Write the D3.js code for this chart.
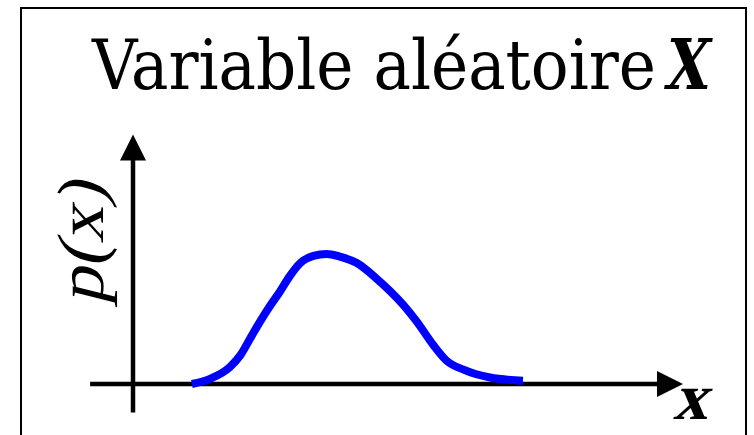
<!DOCTYPE html>
<html>
<head>
<meta charset="utf-8">
<script src="https://cdn.jsdelivr.net/npm/d3@7"></script>
<style>
  html, body { margin: 0; padding: 0; background: #fff; }
  svg { display: block; }
</style>
</head>
<body>
<svg id="chart" width="754" height="435"></svg>
<script>
// Density curve p(x): sample points (x, p) along the bell-shaped curve
const curveX = [1.07, 1.40, 1.76, 1.95, 2.13, 2.31, 2.49, 2.67, 2.85, 3.04, 3.28, 3.52, 3.76, 4.07, 4.43, 4.91, 5.16, 5.46, 5.70, 6.01, 6.49, 7.09];
const curveP = [0.00, 0.04, 0.13, 0.22, 0.35, 0.48, 0.60, 0.71, 0.83, 0.93, 0.985, 1.00, 0.98, 0.93, 0.81, 0.61, 0.48, 0.30, 0.18, 0.11, 0.05, 0.025];

// Axis extents in data units
const xAxisExtent = [-0.78, 10];
const yAxisExtent = [-0.22, 1.92];

// Texts
const titleText = "Variable aléatoire";
const titleVar = "X";
const yLabel = "p(x)";
const xLabel = "x";

const svg = d3.select("#chart");

const x = d3.scaleLinear().domain([0, 10]).range([133, 683]);
const y = d3.scaleLinear().domain([0, 1]).range([384, 254]);

// Frame
svg.append("path")
  .attr("d", "M21,440 V8 H746 V440")
  .attr("fill", "none")
  .attr("stroke", "#000")
  .attr("stroke-width", 2);

// Title
svg.append("text")
  .attr("x", 92).attr("y", 89)
  .attr("font-family", "'DejaVu Serif Condensed', 'DejaVu Serif', serif")
  .attr("font-size", 69)
  .attr("textLength", 564)
  .attr("lengthAdjust", "spacingAndGlyphs")
  .text(titleText);

svg.append("text")
  .attr("x", 667).attr("y", 89)
  .attr("font-family", "'DejaVu Serif', serif")
  .attr("font-size", 69)
  .attr("font-weight", "bold")
  .attr("font-style", "italic")
  .attr("textLength", 44)
  .attr("lengthAdjust", "spacingAndGlyphs")
  .text(titleVar);

// Axes with arrowheads
const arrowLen = 26, arrowHalf = 13;
const axisColor = "#000";

// x axis
const xTip = x(xAxisExtent[1]);
svg.append("line")
  .attr("x1", x(xAxisExtent[0])).attr("x2", xTip - arrowLen + 2)
  .attr("y1", y(0)).attr("y2", y(0))
  .attr("stroke", axisColor).attr("stroke-width", 4.5);
svg.append("path")
  .attr("d", `M${xTip},${y(0)} L${xTip - arrowLen},${y(0) - arrowHalf} L${xTip - arrowLen},${y(0) + arrowHalf} Z`)
  .attr("fill", axisColor);

// y axis
const yTip = y(yAxisExtent[1]);
svg.append("line")
  .attr("x1", x(0)).attr("x2", x(0))
  .attr("y1", y(yAxisExtent[0])).attr("y2", yTip + arrowLen - 2)
  .attr("stroke", axisColor).attr("stroke-width", 4.5);
svg.append("path")
  .attr("d", `M${x(0)},${yTip} L${x(0) - arrowHalf},${yTip + arrowLen} L${x(0) + arrowHalf},${yTip + arrowLen} Z`)
  .attr("fill", axisColor);

// Density curve
const pts = curveX.map((v, i) => [v, curveP[i]]);
const line = d3.line()
  .x(d => x(d[0]))
  .y(d => y(d[1]))
  .curve(d3.curveMonotoneX);
svg.append("path")
  .datum(pts)
  .attr("d", line)
  .attr("fill", "none")
  .attr("stroke", "#0000ff")
  .attr("stroke-width", 8);

// Axis labels: upright serif slanted by a skew to read as math italic
svg.append("text")
  .attr("transform", "translate(103,305) rotate(-90) skewX(-14)")
  .attr("font-family", "'Liberation Serif', 'Times New Roman', serif")
  .attr("font-size", 66)
  .attr("textLength", 123)
  .attr("lengthAdjust", "spacingAndGlyphs")
  .text(yLabel);

svg.append("text")
  .attr("transform", "translate(673,419) skewX(-14)")
  .attr("font-family", "'Liberation Serif', 'Times New Roman', serif")
  .attr("font-weight", "bold")
  .attr("font-size", 66)
  .attr("textLength", 34)
  .attr("lengthAdjust", "spacingAndGlyphs")
  .text(xLabel);
</script>
</body>
</html>
